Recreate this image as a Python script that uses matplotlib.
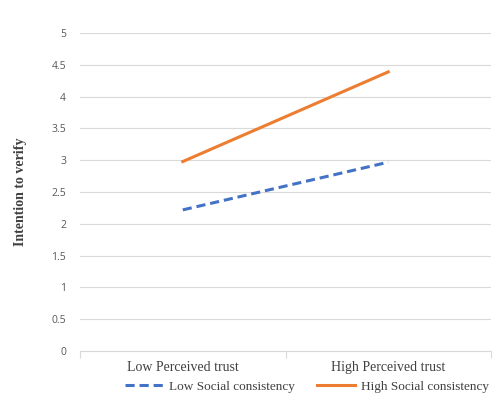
import matplotlib.pyplot as plt

categories = ["Low Perceived trust", "High Perceived trust"]
low_social = [2.22, 2.97]
high_social = [2.98, 4.39]
yticks = [0, 0.5, 1, 1.5, 2, 2.5, 3, 3.5, 4, 4.5, 5]

fig = plt.figure(figsize=(4.97, 3.94), dpi=100)
ax = fig.add_axes([0.161, 0.109, 0.827, 0.807])

x = [0, 1]
ax.plot(x, low_social, color="#4472C4", linewidth=2.2, linestyle=(0, (3, 1.6)),
        label="Low Social consistency")
ax.plot(x, high_social, color="#ED7D31", linewidth=2.2,
        label="High Social consistency")

ax.set_xlim(-0.5, 1.5)
ax.set_ylim(0, 5)
ax.set_yticks(yticks)
ax.set_yticklabels([f"{t:g}" for t in yticks], fontsize=7.5, color="#595959",
                   family="Open Sans")
ax.tick_params(axis="y", length=0, pad=10)
ax.grid(axis="y", color="#D9D9D9", linewidth=0.8)
ax.set_axisbelow(True)

# category labels sit between the boundary ticks
ax.set_xticks([-0.5, 0.5, 1.5])
ax.set_xticklabels([])
ax.set_xticks(x, minor=True)
ax.set_xticklabels(categories, minor=True, fontsize=10, color="#404040",
                   family="Liberation Serif")
ax.tick_params(axis="x", which="major", length=5, color="#D9D9D9")
ax.tick_params(axis="x", which="minor", length=0, pad=7)

for side in ["left", "right", "top"]:
    ax.spines[side].set_visible(False)
ax.spines["bottom"].set_color("#D9D9D9")

ax.set_ylabel("Intention to verify", fontsize=10, fontweight="bold",
              family="Liberation Serif", color="#404040")
ax.yaxis.set_label_coords(-0.128, 0.5)

fig.legend(loc="center left", bbox_to_anchor=(0.24, 0.018), ncol=2,
           frameon=False, prop={"family": "Liberation Serif", "size": 9.5},
           labelcolor="#404040", handlelength=2.9, handletextpad=0.45,
           columnspacing=1.7, borderaxespad=0)

fig.savefig("out.png", dpi=100)
